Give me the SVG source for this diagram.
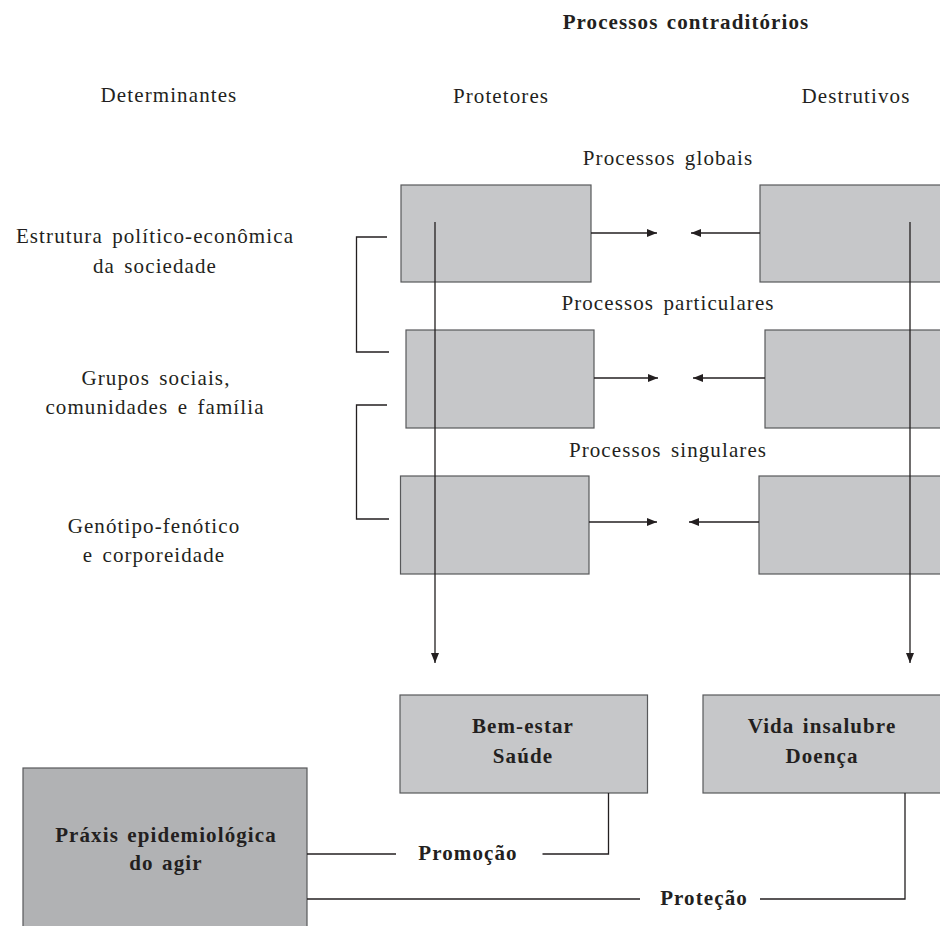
<svg xmlns="http://www.w3.org/2000/svg" width="940" height="926" viewBox="0 0 940 926">
<style>
text{font-family:"Liberation Serif","DejaVu Serif",serif;fill:#231f20;text-anchor:middle}
.t{font-size:21px;letter-spacing:1.1px;word-spacing:3px}
.b{font-size:21px;font-weight:bold;letter-spacing:1.1px;word-spacing:2px}
.box{fill:#c6c7c9;stroke:#58595b;stroke-width:1.2}
.dark{fill:#b1b2b4;stroke:#58595b;stroke-width:1.2}
.ln{fill:none;stroke:#231f20;stroke-width:1.3}
</style>
<defs>
<marker id="ah" viewBox="0 0 10 8" refX="10" refY="4" markerWidth="10" markerHeight="8" markerUnits="userSpaceOnUse" orient="auto">
<path d="M0,0 L10,4 L0,8 Z" fill="#231f20"/>
</marker>
</defs>
<rect width="940" height="926" fill="#ffffff"/>
<g id="labels">
<text class="b" x="686" y="29">Processos contraditórios</text>
<text class="t" x="169" y="102">Determinantes</text>
<text class="t" x="501" y="103">Protetores</text>
<text class="t" x="856" y="103">Destrutivos</text>
<text class="t" x="668" y="165">Processos globais</text>
<text class="t" x="668" y="310">Processos particulares</text>
<text class="t" x="668" y="457">Processos singulares</text>
</g>
<g id="det-estrutura">
<text class="t" x="155" y="243">Estrutura político-econômica</text>
<text class="t" x="155" y="273">da sociedade</text>
</g>
<g id="det-grupos">
<text class="t" x="156" y="385">Grupos sociais,</text>
<text class="t" x="155" y="414">comunidades e família</text>
</g>
<g id="det-genotipo">
<text class="t" x="154" y="533">Genótipo-fenótico</text>
<text class="t" x="154" y="562">e corporeidade</text>
</g>
<g id="prot-global"><rect class="box" x="401" y="185" width="190" height="97"/></g>
<g id="dest-global"><rect class="box" x="760" y="185" width="190" height="97"/></g>
<g id="prot-particular"><rect class="box" x="406" y="330" width="188" height="98"/></g>
<g id="dest-particular"><rect class="box" x="765" y="330" width="185" height="98"/></g>
<g id="prot-singular"><rect class="box" x="400.5" y="476" width="188.5" height="98"/></g>
<g id="dest-singular"><rect class="box" x="759" y="476" width="191" height="98"/></g>
<g id="bem-estar">
<rect class="box" x="400" y="695" width="247.5" height="98"/>
<text class="b" x="523" y="733">Bem-estar</text>
<text class="b" x="523" y="763">Saúde</text>
</g>
<g id="vida-insalubre">
<rect class="box" x="703" y="695" width="247" height="98"/>
<text class="b" x="822" y="733">Vida insalubre</text>
<text class="b" x="822" y="763">Doença</text>
</g>
<g id="praxis">
<rect class="dark" x="23" y="768" width="284" height="170"/>
<text class="b" x="166" y="842">Práxis epidemiológica</text>
<text class="b" x="166" y="870">do agir</text>
</g>
<g id="connectors">
<line class="ln" x1="591" y1="233" x2="657" y2="233" marker-end="url(#ah)"/>
<line class="ln" x1="760" y1="233" x2="691" y2="233" marker-end="url(#ah)"/>
<line class="ln" x1="594" y1="378" x2="658" y2="378" marker-end="url(#ah)"/>
<line class="ln" x1="765" y1="378" x2="693" y2="378" marker-end="url(#ah)"/>
<line class="ln" x1="589" y1="522" x2="657" y2="522" marker-end="url(#ah)"/>
<line class="ln" x1="759" y1="522" x2="689" y2="522" marker-end="url(#ah)"/>
<line class="ln" x1="435" y1="222" x2="435" y2="663" marker-end="url(#ah)"/>
<line class="ln" x1="910" y1="222" x2="910" y2="663" marker-end="url(#ah)"/>
<polyline class="ln" points="387,237 356.5,237 356.5,352 389,352"/>
<polyline class="ln" points="387,405 356.5,405 356.5,519 389,519"/>
<line class="ln" x1="307" y1="854" x2="396" y2="854"/>
<polyline class="ln" points="542.5,854 608.5,854 608.5,793"/>
<line class="ln" x1="307" y1="899" x2="640" y2="899"/>
<polyline class="ln" points="760,899 905,899 905,793"/>
<text class="b" x="468" y="860">Promoção</text>
<text class="b" x="704" y="905">Proteção</text>
</g>
</svg>
